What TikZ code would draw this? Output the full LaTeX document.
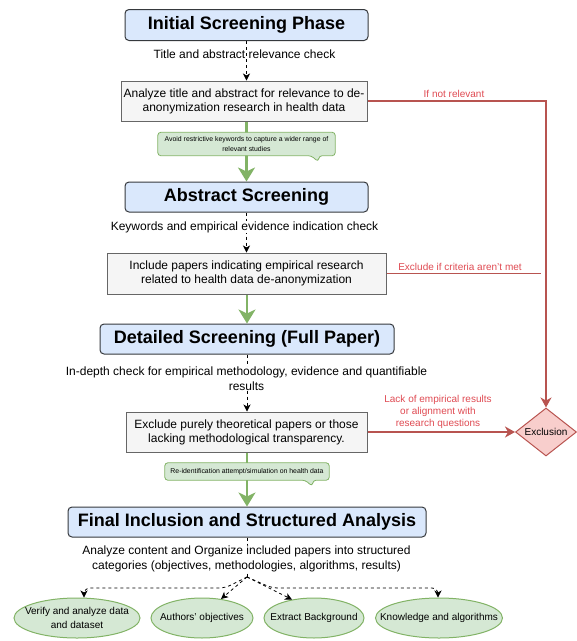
\documentclass[tikz,border=0pt]{standalone}
\usepackage{fontspec}
\setmainfont{Liberation Sans}
\usetikzlibrary{shapes.geometric,arrows.meta,calc,backgrounds}
\definecolor{cTfill}{HTML}{DAE8FC}
\definecolor{cTdraw}{HTML}{36393D}
\definecolor{cGfill}{HTML}{F5F5F5}
\definecolor{cGdraw}{HTML}{666666}
\definecolor{cGreen}{HTML}{82B366}
\definecolor{cGreenfill}{HTML}{D5E8D4}
\definecolor{cRed}{HTML}{B85450}
\definecolor{cRedfill}{HTML}{F8CECC}
\definecolor{cRedtext}{HTML}{DF4A52}
\begin{document}
\begin{tikzpicture}[x=1pt,y=-1pt,
  titlebox/.style={draw=cTdraw, fill=cTfill, rounded corners=4pt, line width=1pt,
    font=\fontsize{18}{21}\selectfont\bfseries, inner sep=0pt},
  graybox/.style={draw=cGdraw, fill=cGfill, line width=1pt,
    font=\fontsize{12}{14}\selectfont, align=center, inner sep=0pt},
  lbl/.style={font=\fontsize{12}{15}\selectfont, align=center, inner sep=0pt},
  redlbl/.style={font=\fontsize{10}{12}\selectfont, text=cRedtext, align=center, inner sep=0pt},
  calltext/.style={font=\fontsize{6.9}{10}\selectfont, align=center, inner sep=0pt},
  callshape/.style={draw=cGreen, fill=cGreenfill, line width=0.8pt, rounded corners=3pt},
  oval/.style={ellipse, draw=cGreen, fill=cGreenfill, line width=1pt, inner sep=0pt,
    minimum height=40pt},
  ovaltext/.style={font=\fontsize{10}{14.5}\selectfont, align=center, inner sep=0pt},
  dashln/.style={draw=black, line width=0.8pt, dash pattern=on 3pt off 3pt},
  dasharrow/.style={dashln, -{Stealth[length=7pt,width=7pt,inset=2pt]}},
  greenarrow/.style={draw=cGreen, line width=2.6pt, -{Stealth[length=14pt,width=17pt,inset=4pt]}},
  redln/.style={draw=cRed, line width=1.5pt},
  redarrow/.style={redln, -{Stealth[length=10pt,width=11pt,inset=3pt]}}
]
\useasboundingbox (0,0) rectangle (577,641);

% main column
\node[titlebox, minimum width=243pt, minimum height=31pt] (t1) at (246.5,25) {Initial Screening Phase};
\node[lbl] (l1) at (244.5,54) {Title and abstract relevance check};
\node[graybox, minimum width=246pt, minimum height=40pt] (b2) at (244,101) {Analyze title and abstract for relevance to de-\\anonymization research in health data};
\node[calltext, minimum width=177pt, minimum height=23pt] (c1) at (246.5,144) {Avoid restrictive keywords to capture a wider range of\\relevant studies};
\node[titlebox, minimum width=243pt, minimum height=30pt] (t2) at (246.5,197) {Abstract Screening};
\node[lbl, fill=white] (l2) at (244.5,227) {Keywords and empirical evidence indication check};
\node[graybox, minimum width=279pt, minimum height=41pt] (b4) at (246.5,273.5) {Include papers indicating empirical research\\related to health data de-anonymization};
\node[titlebox, minimum width=294pt, minimum height=30pt] (t3) at (247,339) {Detailed Screening (Full Paper)};
\node[lbl, fill=white] (l3) at (246.5,378.5) {In-depth check for empirical methodology, evidence and quantifiable\\results};
\node[graybox, minimum width=241pt, minimum height=40pt] (b6) at (246.5,432) {Exclude purely theoretical papers or those\\lacking methodological transparency.};
\node[calltext, minimum width=164pt, minimum height=17pt] (c2) at (247,471.5) {Re-identification attempt/simulation on health data};
\node[titlebox, minimum width=358pt, minimum height=30pt] (t4) at (247,522) {Final Inclusion and Structured Analysis};
\node[lbl, fill=white] (l4) at (246.5,558.5) {Analyze content and Organize included papers into structured\\categories (objectives, methodologies, algorithms, results)};
\coordinate (split) at (247,577);

% ellipses
\node[oval, minimum width=126pt] (e1) at (77,618) {};
\node[ovaltext] (e1t) at (e1.center) {Verify and analyze data\\and dataset};
\node[oval, minimum width=102pt] (e2) at (202,618) {};
\node[ovaltext] (e2t) at (e2.center) {Authors' objectives};
\node[oval, minimum width=100pt] (e3) at (314,618) {};
\node[ovaltext] (e3t) at (e3.center) {Extract Background};
\node[oval, minimum width=127pt] (e4) at (439,618) {};
\node[ovaltext] (e4t) at (e4.center) {Knowledge and algorithms};

% exclusion
\node[diamond, draw=cRed, fill=cRedfill, line width=1pt, aspect=1.27, minimum width=61pt, minimum height=48pt, inner sep=0pt, font=\fontsize{10}{12}\selectfont] (ex) at (546,432) {Exclusion};

\begin{scope}[on background layer]
  \draw[dasharrow] (t1.south) -- (t1.south |- b2.north);
  \draw[dasharrow] (t2.south) -- (t2.south |- b4.north);
  \draw[dasharrow] (t3.south) -- (t3.south |- b6.north);
  \draw[dashln] (t4.south) -- (split);
  \draw[greenarrow] (t2.north |- b2.south) -- (t2.north);
  \draw[greenarrow] (t3.north |- b4.south) -- (t3.north);
  \draw[greenarrow] (t4.north |- b6.south) -- (t4.north);
  \filldraw[callshape] (c1.south west) -- (c1.north west) -- (c1.north east) -- (c1.south east)
    -- ($(c1.south east)+(-16,0)$) -- ($(c1.south east)+(-17,6)$) -- ($(c1.south east)+(-24,0)$) -- cycle;
  \filldraw[callshape] (c2.south west) -- (c2.north west) -- (c2.north east) -- (c2.south east)
    -- ($(c2.south east)+(-16,0)$) -- ($(c2.south east)+(-17,6)$) -- ($(c2.south east)+(-24,0)$) -- cycle;
\end{scope}

% final dashed arrows
\draw[dasharrow, rounded corners=6pt] (split) -- (225,588) -- (84,588) -- (84,0 |- e1.north);
\draw[dasharrow] (split) -- (e2.45);
\draw[dasharrow] (split) -- (e3.140);
\draw[dasharrow, rounded corners=6pt] (split) -- (272,588) -- (438,588) -- (438,0 |- e4.north);

% red exclusion paths
\draw[redarrow] (b2.east) -| (ex.north);
\node[redlbl] (nr) at (454,94) {If not relevant};
\coordinate (j1) at (541,273.5);
\draw[redln] (b4.east) -- (j1);
\node[redlbl] (ecl) at (460,267) {Exclude if criteria aren't met};
\draw[redarrow] (b6.east) -- (ex.west);
\node[redlbl] (lack) at (438,412) {Lack of empirical results\\or alignment with\\research questions};
\end{tikzpicture}
\end{document}
